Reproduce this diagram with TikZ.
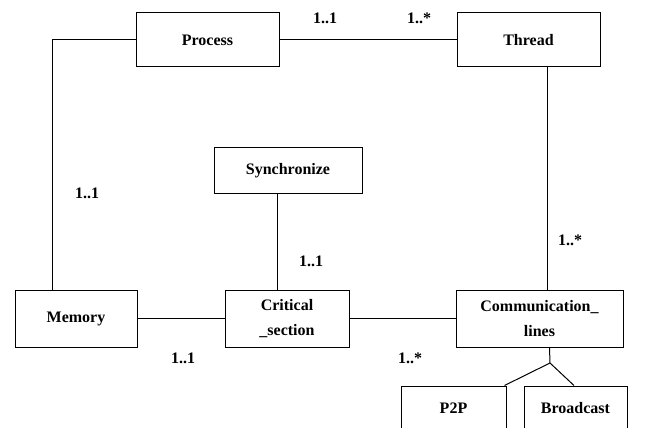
\documentclass[tikz,border=0pt]{standalone}
\usepackage{fontspec}
\setmainfont{Liberation Serif}
\usepackage{tikz}
\usetikzlibrary{arrows, shapes}

\begin{document}
\begin{tikzpicture}[x=1pt, y=-1pt]
		\tikzstyle{every node} = [font = \fontsize{16}{25}\selectfont\bfseries]
		\tikzstyle{cls} = [draw, line width=1pt, inner sep=0pt, align=center]
		\tikzstyle{mult} = [inner sep=0pt]
				\useasboundingbox (0,0) rectangle (649,428);
				\clip (0,0) rectangle (649,428);
				% classes
				\node[cls, minimum width=143, minimum height=54] (proc) at (207.5,40) {Process};
				\node[cls, minimum width=143, minimum height=54] (thr) at (528.5,40) {Thread};
				\node[cls, minimum width=148, minimum height=45] (sync) at (288,170.5) {Synchronize};
				\node[cls, minimum width=122, minimum height=57] (mem) at (76,318.5) {Memory};
				\node[cls, minimum width=124, minimum height=57] (crit) at (287,318.5) {Critical\\\_section};
				\node[cls, minimum width=167, minimum height=57] (comm) at (539.5,318.5) {Communication\_\\lines};
				\node[cls, minimum width=105, minimum height=44] (p2p) at (453.5,408) {P2P};
				\node[cls, minimum width=103, minimum height=44] (bcast) at (575.5,408) {Broadcast};
				% associations
				\path[draw, line width=1pt] (proc)--(thr);
				\path[draw, line width=1pt] (proc.west) -| ([xshift=-24pt]mem.north);
				\path[draw, line width=1pt] ([xshift=19pt]thr.south)--
					([xshift=19pt]thr.south |- comm.north);
				\path[draw, line width=1pt] ([xshift=-11pt]sync.south)--
					([xshift=-11pt]sync.south |- crit.north);
				\path[draw, line width=1pt] (mem)--(crit);
				\path[draw, line width=1pt] (crit)--(comm);
				% generalisation
				\coordinate (fork) at (550,363);
				\path[draw, line width=1pt] ([xshift=10pt]comm.south)--(fork);
				\path[draw, line width=1pt] (fork)--([xshift=51pt]p2p.north);
				\path[draw, line width=1pt] (fork)--([xshift=-1.5pt]bcast.north);
				% multiplicities
				\node[mult] (m1) at (325,18) {1..1};
				\node[mult] (m2) at (419,18) {1..*};
				\node[mult] (m3) at (87,193) {1..1};
				\node[mult] (m4) at (311,261) {1..1};
				\node[mult] (m5) at (570,240) {1..*};
				\node[mult] (m6) at (183,358) {1..1};
				\node[mult] (m7) at (410,358) {1..*};
	\end{tikzpicture}
\end{document}
